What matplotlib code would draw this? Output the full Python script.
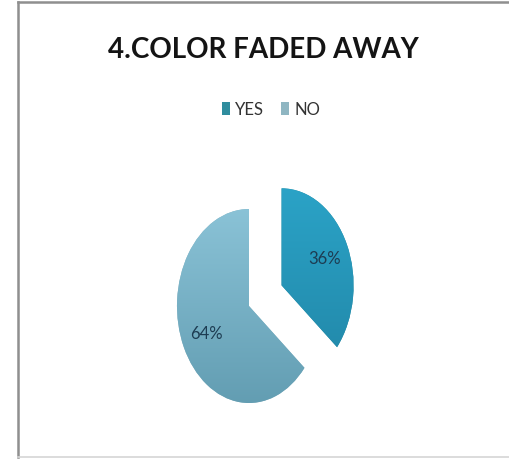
import numpy as np
import matplotlib
matplotlib.use("Agg")
import matplotlib.pyplot as plt
from matplotlib.patches import Patch
from matplotlib.lines import Line2D
from matplotlib.colors import LinearSegmentedColormap

# Chart data
title = "4.COLOR FADED AWAY"
categories = ["YES", "NO"]
shares = [36, 64]
explode = [0.5, 0.0]

# Colours: flat legend swatches and top/bottom gradient stops for each slice
legend_colors = ["#2f8d9e", "#8fb6c2"]
grad_top = ["#2ba4c8", "#90c8dc"]
grad_bottom = ["#1f7f9f", "#5d98ad"]

font = ["Lato", "DejaVu Sans"]

W, H = 510, 460
fig = plt.figure(figsize=(W / 100, H / 100), dpi=100)
fig.patch.set_facecolor("white")

# Chart-area frame: left, top and bottom edges
x0, ytop, ybot = 17.5 / W, 1 - 3 / H, 1 - 458 / H
fig.add_artist(Line2D([x0, x0], [ybot, ytop], transform=fig.transFigure,
                      color="#8f8f8f", lw=1.8))
fig.add_artist(Line2D([x0, 1.0], [ytop, ytop], transform=fig.transFigure,
                      color="#8f8f8f", lw=1.8))
fig.add_artist(Line2D([x0, 1.0], [ybot, ybot], transform=fig.transFigure,
                      color="#d6d6d6", lw=1.2))

# Pie axes: unit radius spans 72 px horizontally and 97 px vertically
rx, ry = 72, 97
cx, cy = 249, 307
xl, yl = 2.0, 1.5
ax = fig.add_axes([(cx - xl * rx) / W, (H - cy - yl * ry) / H,
                   2 * xl * rx / W, 2 * yl * ry / H])
ax.axis("off")

wedges, texts, autotexts = ax.pie(
    shares, explode=explode, startangle=90, counterclock=False,
    colors=legend_colors, autopct="%1.0f%%", pctdistance=0.66,
    wedgeprops=dict(linewidth=0), frame=False)
ax.set_xlim(-xl, xl)
ax.set_ylim(-yl, yl)
ax.set_aspect("auto")

for t in autotexts:
    t.set_fontfamily(font)
    t.set_fontsize(12)
    t.set_color("#1d3c52")
    t.set_zorder(5)

# Vertical gradient fill clipped to each wedge
for w, top, bot in zip(wedges, grad_top, grad_bottom):
    cmap = LinearSegmentedColormap.from_list("g", [bot, top])
    grad = np.linspace(0, 1, 256).reshape(-1, 1)
    im = ax.imshow(grad, cmap=cmap, origin="lower", aspect="auto",
                   extent=[-xl, xl, -1.3, 1.3], zorder=w.get_zorder() + 0.1)
    im.set_clip_path(w)

# Title and legend
fig.text(263 / W, 1 - 50 / H, title, ha="center", va="center",
         fontfamily=font, fontweight="bold", fontsize=20, color="#141414")

handles = [Patch(facecolor=c, edgecolor="none") for c in legend_colors]
fig.legend(handles, categories, loc="center", bbox_to_anchor=(271 / W, 1 - 110 / H),
           ncol=2, frameon=False, handlelength=0.5, handleheight=0.8,
           handletextpad=0.3, columnspacing=1.0,
           prop=dict(family=font, size=12), labelcolor="#333333")

fig.savefig("out.png", dpi=100, facecolor="white")
